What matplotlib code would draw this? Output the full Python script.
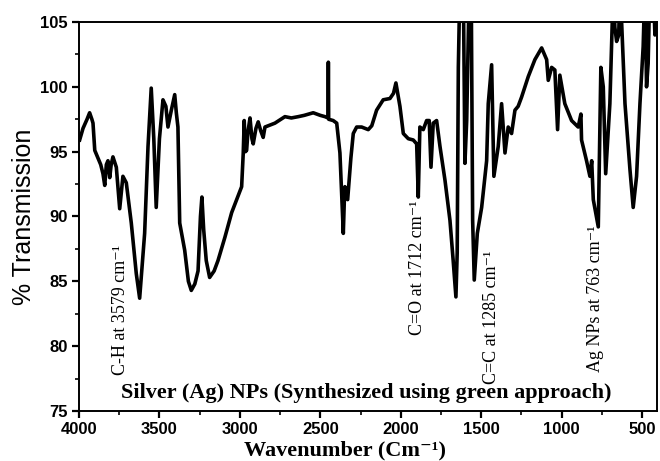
import matplotlib
matplotlib.use("Agg")
import matplotlib.pyplot as plt
from matplotlib.ticker import MultipleLocator

# ---- data ----
wavenumber = [3996, 3975, 3950, 3934, 3920, 3913, 3902, 3882, 3865, 3851, 3840, 3830, 3820, 3809,
              3800, 3789, 3768, 3747, 3727, 3706, 3690, 3675, 3644, 3623, 3592, 3571, 3551, 3535,
              3520, 3500, 3478, 3460, 3447, 3426, 3405, 3395, 3385, 3374, 3343, 3320, 3302, 3280,
              3260, 3245, 3236, 3225, 3209, 3188, 3160, 3136, 3093, 3051, 2989, 2979, 2973, 2965,
              2958, 2950, 2937, 2925, 2917, 2900, 2886, 2870, 2855, 2844, 2782, 2720, 2680, 2637,
              2600, 2544, 2500, 2471, 2452, 2450, 2448, 2420, 2398, 2378, 2365, 2357, 2350, 2347,
              2330, 2310, 2295, 2274, 2243, 2202, 2180, 2150, 2109, 2067, 2045, 2030, 2005, 1984,
              1953, 1922, 1901, 1891, 1881, 1860, 1839, 1823, 1812, 1798, 1777, 1756, 1725, 1694,
              1674, 1657, 1649, 1642, 1632, 1611, 1601, 1590, 1574, 1562, 1553, 1543, 1524, 1497,
              1466, 1456, 1435, 1421, 1394, 1373, 1352, 1332, 1311, 1290, 1270, 1249, 1207, 1166,
              1124, 1093, 1083, 1062, 1042, 1025, 1011, 980, 938, 897, 880, 876, 845, 824, 813,
              803, 772, 756, 741, 726, 700, 678, 669, 658, 645, 637, 606, 575, 555, 534, 513, 493,
              482, 472, 462, 451, 430, 420, 410]
transmission = [95.9, 96.8, 97.5, 98.0, 97.5, 97.2, 95.1, 94.5, 94.0, 93.3, 92.4, 94.0, 94.3, 93.0,
                94.0, 94.6, 93.8, 90.6, 93.1, 92.6, 91.0, 89.5, 85.6, 83.7, 88.7, 95.4, 99.9, 96.0,
                90.7, 96.0, 99.0, 98.5, 96.9, 98.2, 99.4, 98.0, 96.9, 89.5, 87.4, 85.0, 84.3, 84.8,
                85.8, 90.0, 91.5, 89.0, 86.6, 85.3, 85.8, 86.6, 88.4, 90.3, 92.3, 94.9, 97.4, 95.0,
                95.1, 96.5, 97.6, 96.0, 95.6, 96.8, 97.3, 96.6, 96.1, 96.9, 97.2, 97.7, 97.6, 97.7,
                97.8, 98.0, 97.8, 97.7, 97.6, 101.9, 97.5, 97.4, 97.2, 94.9, 91.0, 88.7, 91.5, 92.3,
                91.3, 94.5, 96.4, 96.9, 96.9, 96.7, 97.0, 98.2, 99.0, 99.1, 99.5, 100.3, 98.5, 96.4,
                96.0, 95.9, 95.6, 91.5, 96.9, 96.7, 97.4, 97.4, 93.8, 97.2, 97.4, 95.4, 92.8, 89.7,
                86.6, 83.8, 87.2, 101.5, 108.0, 108.0, 94.1, 97.4, 108.0, 108.0, 89.7, 85.1, 88.7, 90.7,
                94.3, 98.7, 101.7, 93.1, 95.4, 98.7, 94.9, 96.9, 96.4, 98.2, 98.5, 99.2, 100.8, 102.1,
                103.0, 102.1, 100.5, 101.5, 101.3, 96.7, 100.9, 98.7, 97.4, 96.9, 97.9, 95.9, 94.3, 93.1, 94.3,
                91.3, 89.2, 101.5, 100.0, 93.3, 98.7, 108.0, 104.6, 103.5, 104.0, 108.0, 98.7, 93.6, 90.7, 93.1, 98.7, 103.1,
                108.0, 100.0, 101.8, 108.0, 108.0, 104.0, 108.0]

band_labels = ["C-H at 3579 cm\u207b\u00b9", "C=O at 1712 cm\u207b\u00b9",
               "C=C at 1285 cm\u207b\u00b9", "Ag NPs at 763 cm\u207b\u00b9"]
band_x = [3739, 1893, 1433, 787]
band_y = [77.74, 80.83, 77.1, 78.0]
title_text = "Silver (Ag) NPs (Synthesized using green approach)"
x_label = "Wavenumber (Cm\u207b\u00b9)"
y_label = "% Transmission"

serif = ["Liberation Serif", "DejaVu Serif"]
sans = ["Liberation Sans", "DejaVu Sans"]

fig = plt.figure(figsize=(6.6, 4.61), dpi=100)
ax = fig.add_axes([79/660, 1-411/461, 578/660, 389/461])
ax.plot(wavenumber, transmission, color="black", lw=2.6, solid_joinstyle="round")
ax.set_xlim(4000, 407)
ax.set_ylim(75, 105)

ax.xaxis.set_major_locator(MultipleLocator(500))
ax.xaxis.set_minor_locator(MultipleLocator(250))
ax.yaxis.set_major_locator(MultipleLocator(5))
ax.yaxis.set_minor_locator(MultipleLocator(2.5))
ax.tick_params(axis="both", which="major", direction="out", length=5, width=1.6)
ax.tick_params(axis="both", which="minor", direction="out", length=3, width=1.2)
ax.tick_params(axis="x", which="major", pad=3)
ax.tick_params(axis="y", which="major", pad=3)
for lab in ax.get_xticklabels() + ax.get_yticklabels():
    lab.set_fontfamily(sans)
    lab.set_fontweight("bold")
    lab.set_fontsize(12)
for s in ax.spines.values():
    s.set_linewidth(1.4)

ax.set_ylabel(y_label, fontfamily=sans, fontsize=18)
ax.yaxis.set_label_coords(-0.074, 0.5)
ax.set_xlabel(x_label, fontfamily=serif, fontweight="bold", fontsize=16)
ax.xaxis.set_label_coords(0.46, -0.102)
ax.xaxis.label.set_va("center")

for t, x, y in zip(band_labels, band_x, band_y):
    ax.text(x, y, t, rotation=90, ha="center", va="bottom",
            fontfamily=serif, fontsize=13)

ax.text(2216, 76.35, title_text, ha="center", va="center",
        fontfamily=serif, fontweight="bold", fontsize=16)

fig.savefig("out.png", dpi=100)
